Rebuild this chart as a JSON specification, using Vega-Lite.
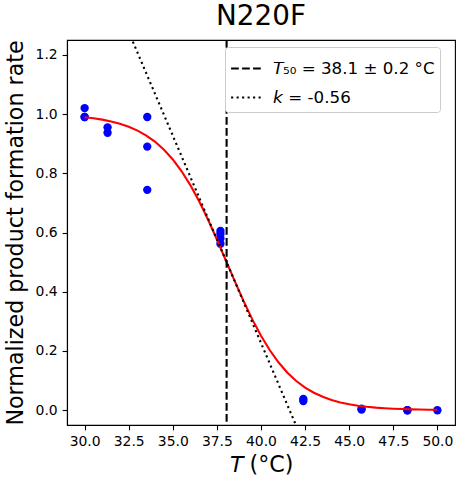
{
  "$schema": "https://vega.github.io/schema/vega-lite/v6.json",
  "width": 388,
  "height": 385,
  "autosize": "none",
  "padding": {"left": 67, "top": 40, "right": 9, "bottom": 62},
  "background": "white",
  "title": {"text": "N220F", "fontSize": 27.8, "font": "DejaVu Sans", "fontWeight": "normal", "offset": 8, "color": "black"},
  "config": {
    "font": "DejaVu Sans",
    "view": {"stroke": "black", "strokeWidth": 1.1},
    "axis": {
      "grid": false,
      "domainColor": "black",
      "domainWidth": 1.1,
      "tickColor": "black",
      "tickWidth": 1.1,
      "tickSize": 4.9,
      "labelFont": "DejaVu Sans",
      "labelFontSize": 13.9,
      "labelColor": "black",
      "labelPadding": 4.9,
      "titleFont": "DejaVu Sans",
      "titleFontSize": 22.2,
      "titleFontWeight": "normal",
      "titleColor": "black"
    },
    "legend": {
      "orient": "none",
      "legendX": 158,
      "legendY": 7,
      "fillColor": "white",
      "strokeColor": "#cccccc",
      "cornerRadius": 3,
      "padding": 5,
      "symbolType": "stroke",
      "symbolSize": 950,
      "symbolStrokeWidth": 2.1,
      "symbolStrokeColor": "black",
      "labelFont": "DejaVu Sans",
      "labelFontSize": 16.7,
      "labelColor": "black",
      "labelOffset": 10,
      "labelLimit": 400,
      "rowPadding": 3
    }
  },
  "datasets": {
    "obs": [
      {"T": 30.0, "rate": 1.02},
      {"T": 30.0, "rate": 0.99},
      {"T": 30.0, "rate": 0.99},
      {"T": 31.3, "rate": 0.955},
      {"T": 31.3, "rate": 0.937},
      {"T": 33.55, "rate": 0.99},
      {"T": 33.55, "rate": 0.89},
      {"T": 33.55, "rate": 0.744},
      {"T": 37.7, "rate": 0.605},
      {"T": 37.7, "rate": 0.595},
      {"T": 37.7, "rate": 0.58},
      {"T": 37.7, "rate": 0.562},
      {"T": 42.4, "rate": 0.038},
      {"T": 42.4, "rate": 0.031},
      {"T": 45.7, "rate": 0.005},
      {"T": 45.7, "rate": 0.002},
      {"T": 48.3, "rate": 0.0},
      {"T": 48.3, "rate": 0.0},
      {"T": 50.0, "rate": 0.0}
    ],
    "fit": [
      {"T": 30.0, "rate": 0.98909},
      {"T": 30.5, "rate": 0.98563},
      {"T": 31.0, "rate": 0.98108},
      {"T": 31.5, "rate": 0.97511},
      {"T": 32.0, "rate": 0.96733},
      {"T": 32.5, "rate": 0.95723},
      {"T": 33.0, "rate": 0.94416},
      {"T": 33.5, "rate": 0.92744},
      {"T": 34.0, "rate": 0.9062},
      {"T": 34.5, "rate": 0.87954},
      {"T": 35.0, "rate": 0.84658},
      {"T": 35.5, "rate": 0.8066},
      {"T": 36.0, "rate": 0.75914},
      {"T": 36.5, "rate": 0.70433},
      {"T": 37.0, "rate": 0.64291},
      {"T": 37.5, "rate": 0.5764},
      {"T": 38.0, "rate": 0.507},
      {"T": 38.5, "rate": 0.43732},
      {"T": 39.0, "rate": 0.37004},
      {"T": 39.5, "rate": 0.30748},
      {"T": 40.0, "rate": 0.25125},
      {"T": 40.5, "rate": 0.2023},
      {"T": 41.0, "rate": 0.16084},
      {"T": 41.5, "rate": 0.12654},
      {"T": 42.0, "rate": 0.09868},
      {"T": 42.5, "rate": 0.07642},
      {"T": 43.0, "rate": 0.05885},
      {"T": 43.5, "rate": 0.04513},
      {"T": 44.0, "rate": 0.03449},
      {"T": 44.5, "rate": 0.02629},
      {"T": 45.0, "rate": 0.02},
      {"T": 45.5, "rate": 0.01519},
      {"T": 46.0, "rate": 0.01152},
      {"T": 46.5, "rate": 0.00873},
      {"T": 47.0, "rate": 0.00661},
      {"T": 47.5, "rate": 0.00501},
      {"T": 48.0, "rate": 0.00379},
      {"T": 48.5, "rate": 0.00287},
      {"T": 49.0, "rate": 0.00217},
      {"T": 49.5, "rate": 0.00164},
      {"T": 50.0, "rate": 0.00124}
    ],
    "t50": [
      {"T": 38.05, "series": "\ud835\ude1b\u2085\u2080 = 38.1 \u00b1 0.2 \u00b0C"}
    ],
    "slope": [
      {"T": 32.0, "rate": 1.347, "series": "\ud835\ude2c = -0.56"},
      {"T": 43.0, "rate": -0.193, "series": "\ud835\ude2c = -0.56"}
    ]
  },
  "encoding": {
    "x": {
      "field": "T",
      "type": "quantitative",
      "title": "\ud835\ude1b (\u00b0C)",
      "scale": {"domain": [29, 51], "nice": false, "zero": false},
      "axis": {"values": [30, 32.5, 35, 37.5, 40, 42.5, 45, 47.5, 50], "format": ".1f", "titlePadding": 5}
    }
  },
  "layer": [
    {
      "data": {"name": "obs"},
      "mark": {"type": "circle", "size": 70, "color": "blue", "opacity": 1},
      "encoding": {
        "y": {
          "field": "rate",
          "type": "quantitative",
          "title": "Normalized product formation rate",
          "scale": {"domain": [-0.05, 1.25], "nice": false, "zero": false},
          "axis": {"values": [0, 0.2, 0.4, 0.6, 0.8, 1.0, 1.2], "format": ".1f", "titlePadding": 8}
        }
      }
    },
    {
      "data": {"name": "fit"},
      "mark": {"type": "line", "color": "red", "strokeWidth": 2.1},
      "encoding": {
        "y": {"field": "rate", "type": "quantitative"}
      }
    },
    {
      "data": {"name": "t50"},
      "mark": {"type": "rule", "color": "black", "strokeWidth": 2.1},
      "encoding": {
        "strokeDash": {
          "field": "series",
          "type": "nominal",
          "title": null,
          "scale": {
            "domain": ["\ud835\ude1b\u2085\u2080 = 38.1 \u00b1 0.2 \u00b0C", "\ud835\ude2c = -0.56"],
            "range": [[7.7, 3.3], [2.1, 3.4]]
          }
        }
      }
    },
    {
      "data": {"name": "slope"},
      "mark": {"type": "line", "color": "black", "strokeWidth": 2.1, "clip": true},
      "encoding": {
        "y": {"field": "rate", "type": "quantitative"},
        "strokeDash": {"field": "series", "type": "nominal"}
      }
    }
  ]
}
